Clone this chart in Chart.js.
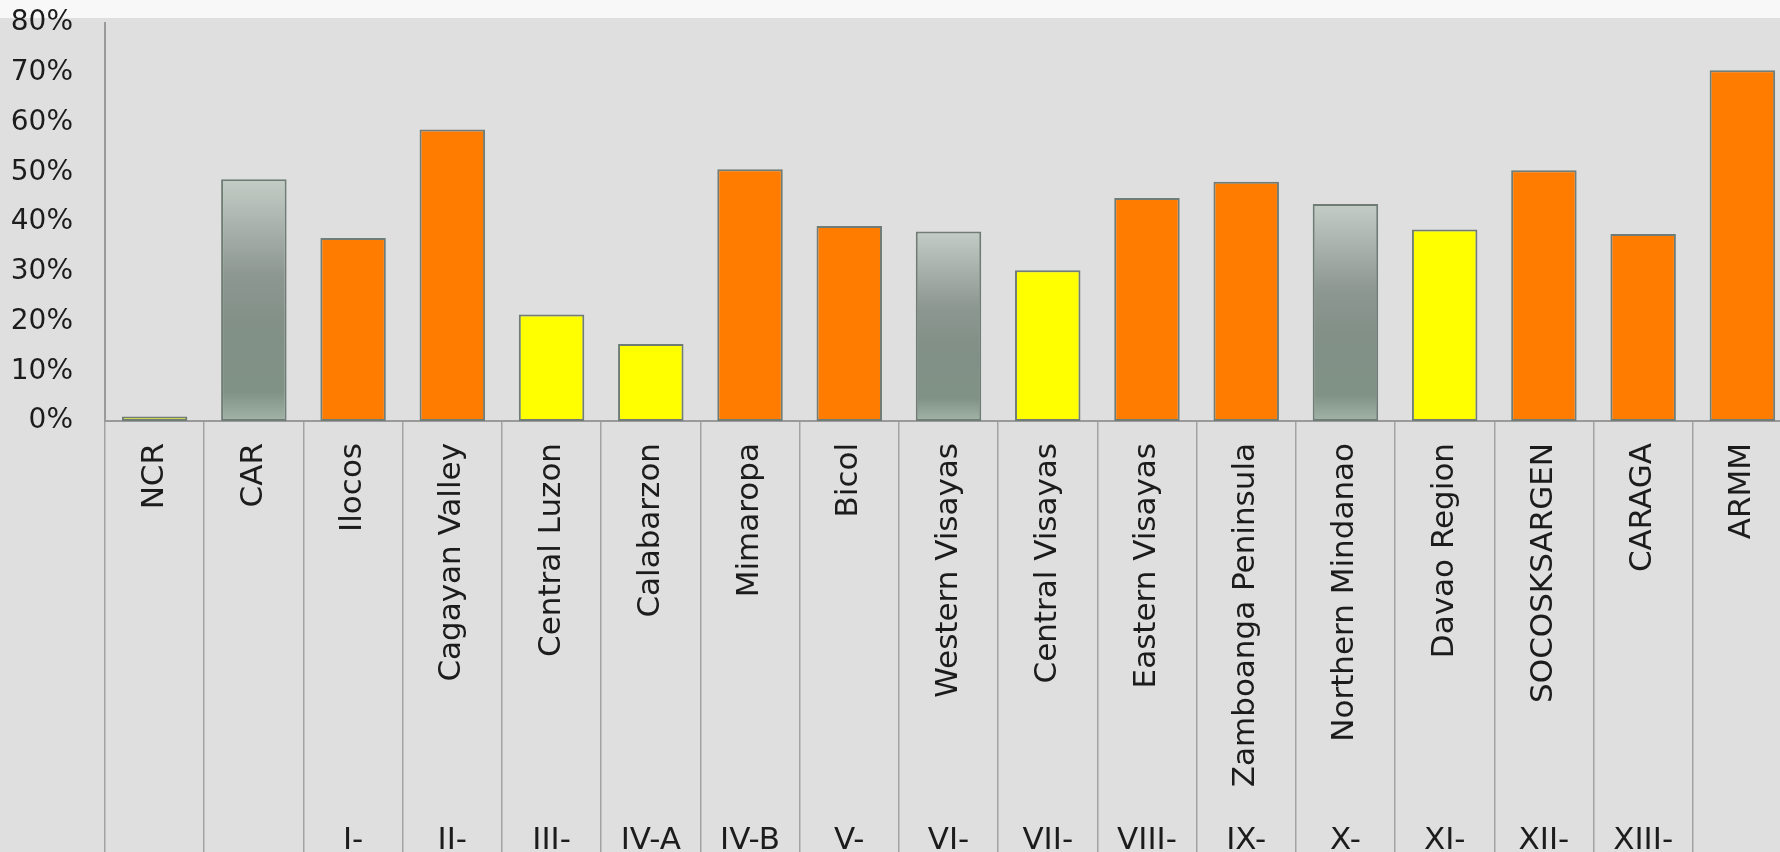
<!DOCTYPE html>
<html>
<head>
<meta charset="utf-8">
<script src="https://cdn.jsdelivr.net/npm/chart.js@4"></script>
<style>
  html, body { margin: 0; padding: 0; overflow: hidden; }
  body {
    width: 1780px; height: 852px;
    background: linear-gradient(#f8f8f8 0, #f8f8f8 18px, #dfdfdf 18px);
  }
  #wrap { width: 1800px; height: 852px; }
</style>
</head>
<body>
<div id="wrap"><canvas id="myBarChart" width="1800" height="852"></canvas></div>
<script>
// region names (rotated labels) and region numbers (bottom row)
var regions = ['NCR', 'CAR', 'Ilocos', 'Cagayan Valley', 'Central Luzon', 'Calabarzon', 'Mimaropa', 'Bicol',
  'Western Visayas', 'Central Visayas', 'Eastern Visayas', 'Zamboanga Peninsula', 'Northern Mindanao',
  'Davao Region', 'SOCOSKSARGEN', 'CARAGA', 'ARMM'];
var regionNumbers = ['', '', 'I-', 'II-', 'III-', 'IV-A', 'IV-B', 'V-', 'VI-', 'VII-', 'VIII-', 'IX-', 'X-',
  'XI-', 'XII-', 'XIII-', ''];
// percent values
var values = [0.9, 48.6, 36.8, 58.6, 21.4, 15.5, 50.6, 39.2, 38.1, 30.3, 44.8, 48.1, 43.6, 38.5, 50.4, 37.6, 70.5];
// colour group of each bar
var groups = ['yellow', 'gray', 'orange', 'orange', 'yellow', 'yellow', 'orange', 'orange', 'gray', 'yellow',
  'orange', 'orange', 'gray', 'yellow', 'orange', 'orange', 'orange'];
var yTicks = [0, 10, 20, 30, 40, 50, 60, 70, 80];

var FONT = 'DejaVu Sans';

function barColor(context) {
  var g = groups[context.dataIndex];
  if (g === 'orange') return '#ff7c00';
  if (g === 'yellow') return '#ffff00';
  var chart = context.chart;
  if (!chart.chartArea || !chart.scales.y) return '#849289';
  var y = chart.scales.y;
  var top = y.getPixelForValue(context.raw);
  var bottom = y.getPixelForValue(0);
  var grad = chart.ctx.createLinearGradient(0, top, 0, bottom);
  grad.addColorStop(0, '#c3ccc5');
  grad.addColorStop(0.2, '#a8b1ab');
  grad.addColorStop(0.4, '#8d9791');
  grad.addColorStop(0.6, '#829087');
  grad.addColorStop(0.88, '#809286');
  grad.addColorStop(1, '#a2b3a8');
  return grad;
}

var ctx = document.getElementById('myBarChart').getContext('2d');
var chart = new Chart(ctx, {
  type: 'bar',
  data: {
    labels: regions,
    datasets: [{
      data: values,
      backgroundColor: barColor,
      borderColor: '#6f7d76',
      borderWidth: 2,
      borderSkipped: false,
      categoryPercentage: 1,
      barPercentage: 0.66,
      xAxisID: 'x',
      yAxisID: 'y'
    }]
  },
  options: {
    responsive: false,
    animation: false,
    layout: { padding: { top: 0, right: 8, left: 0, bottom: 0 } },
    plugins: { legend: { display: false }, tooltip: { enabled: false } },
    scales: {
      y: {
        min: 0,
        max: 80,
        afterBuildTicks: function (scale) {
          scale.ticks = yTicks.map(function (v) { return { value: v }; });
        },
        afterFit: function (scale) {
          scale.width = 105;
          // tick padding is horizontal here, keep it out of the top/bottom space
          scale.paddingTop = 23;
          scale.paddingBottom = 0;
        },
        grid: { display: false, drawTicks: false },
        border: { display: true, color: '#9a9a9a', width: 2 },
        ticks: {
          color: '#1c1c1c',
          padding: 32,
          font: { family: FONT, size: 28 },
          callback: function (v) { return v + '%'; }
        }
      },
      x: {
        position: 'bottom',
        offset: true,
        afterFit: function (scale) { scale.height = 380; },
        grid: {
          offset: true,
          drawOnChartArea: false,
          drawTicks: true,
          tickLength: 440,
          color: '#a3a3a3',
          lineWidth: 1.5
        },
        border: { display: true, color: '#9a9a9a', width: 2 },
        ticks: {
          color: '#1c1c1c',
          autoSkip: false,
          minRotation: 90,
          maxRotation: 90,
          padding: -418,
          font: { family: FONT, size: 31 }
        }
      },
      x2: {
        type: 'category',
        position: 'bottom',
        labels: regionNumbers,
        offset: true,
        afterFit: function (scale) { scale.height = 51; },
        grid: { display: false, drawTicks: false },
        border: { display: false },
        ticks: {
          color: '#1c1c1c',
          autoSkip: false,
          minRotation: 0,
          maxRotation: 0,
          padding: 21,
          font: { family: FONT, size: 31 }
        }
      }
    }
  }
});
</script>
</body>
</html>
